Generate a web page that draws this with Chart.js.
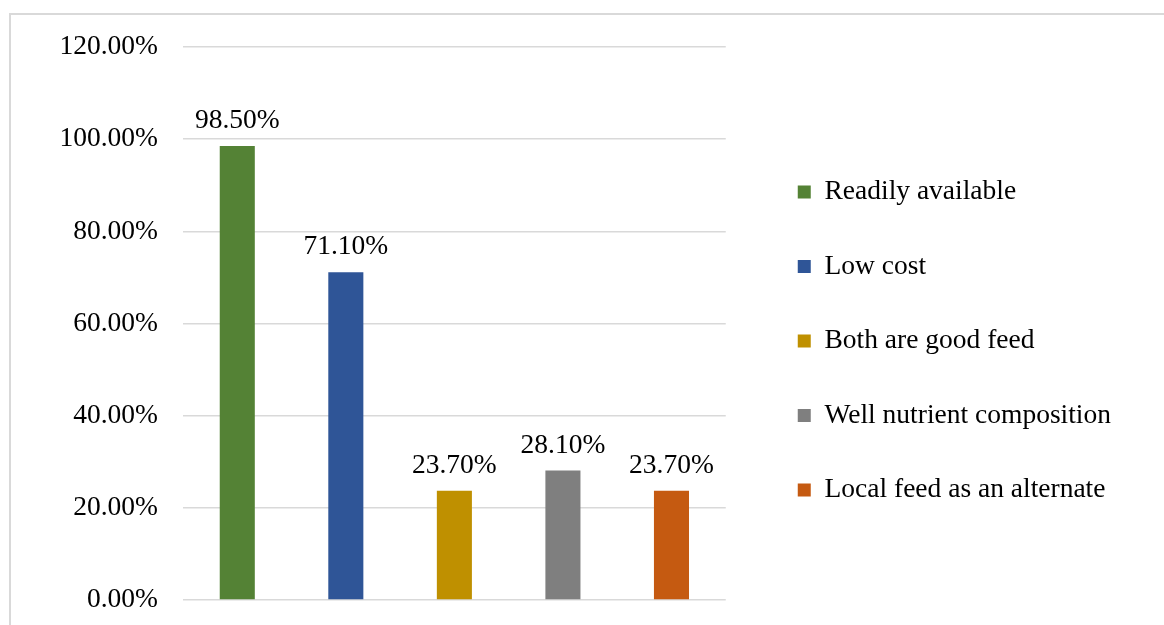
<!DOCTYPE html>
<html>
<head>
<meta charset="utf-8">
<script src="https://cdn.jsdelivr.net/npm/chart.js@4.4.1/dist/chart.umd.min.js"></script>
<style>
  html, body { margin: 0; padding: 0; background: #fff; overflow: hidden; }
  #frame { position: absolute; left: 9px; top: 13px; width: 1200px; height: 700px; border: 2px solid #d9d9d9; }
  #wrap { position: absolute; left: 0; top: 0; width: 1164px; height: 625px; }
</style>
</head>
<body>
<div id="frame"></div>
<div id="wrap"><canvas id="chart"></canvas></div>
<script>
// reasons given for choosing the feed (% of respondents)
const reasons = ['Readily available', 'Low cost', 'Both are good feed', 'Well nutrient composition', 'Local feed as an alternate'];
const shares = [98.5, 71.1, 23.7, 28.1, 23.7];
const barColors = ['#548235', '#2f5597', '#bf9000', '#7f7f7f', '#c55a11'];
const yTicks = [0, 20, 40, 60, 80, 100, 120];

const FONT = 'Liberation Serif';
const FONT_SIZE = 27.5;

// prints the percentage above each bar
const valueLabels = {
    id: 'valueLabels',
    afterDatasetsDraw(chart) {
        const ctx = chart.ctx;
        const meta = chart.getDatasetMeta(0);
        ctx.save();
        ctx.font = `${FONT_SIZE}px "${FONT}"`;
        ctx.fillStyle = '#000';
        ctx.textAlign = 'center';
        ctx.textBaseline = 'alphabetic';
        meta.data.forEach((bar, i) => {
            ctx.fillText(shares[i].toFixed(2) + '%', bar.x, bar.y - 18);
        });
        ctx.restore();
    }
};

new Chart(document.getElementById('chart'), {
    type: 'bar',
    data: {
        labels: reasons,
        datasets: [{
            data: shares,
            backgroundColor: barColors,
            barPercentage: 0.323,
            categoryPercentage: 1
        }]
    },
    options: {
        responsive: true,
        maintainAspectRatio: false,
        animation: false,
        layout: { padding: { left: 0, top: 47, bottom: 25, right: 43 } },
        plugins: {
            tooltip: { enabled: false },
            legend: {
                position: 'right',
                align: 'center',
                maxWidth: 420,
                // empty title, only nudges the items down a little
                title: { display: true, text: '', font: { size: 10 }, padding: { top: 12, bottom: 11 } },
                labels: {
                    color: '#000',
                    font: { family: FONT, size: FONT_SIZE },
                    boxWidth: 13,
                    boxHeight: 13,
                    padding: 47,
                    generateLabels: () => reasons.map((r, i) => ({
                        text: r,
                        fillStyle: barColors[i],
                        strokeStyle: barColors[i],
                        fontColor: '#000',
                        lineWidth: 0,
                        index: i
                    }))
                }
            }
        },
        scales: {
            x: { display: false },
            y: {
                min: 0,
                max: 120,
                afterFit: (scale) => { scale.width = 183; },
                afterBuildTicks: (scale) => { scale.ticks = yTicks.map(v => ({ value: v })); },
                ticks: {
                    padding: 0,
                    color: '#000',
                    font: { family: FONT, size: FONT_SIZE },
                    callback: (v) => v.toFixed(2) + '%'
                },
                // invisible tick marks keep the labels clear of the grid
                grid: { color: '#d9d9d9', lineWidth: 1.5, drawTicks: true, tickLength: 25, tickColor: 'rgba(0,0,0,0)' },
                border: { display: false }
            },
            // spacer between the plot and the legend
            gap: {
                position: 'right',
                display: true,
                afterFit: (scale) => { scale.width = 25; },
                ticks: { display: false },
                grid: { display: false },
                border: { display: false }
            }
        }
    },
    plugins: [valueLabels]
});
</script>
</body>
</html>
